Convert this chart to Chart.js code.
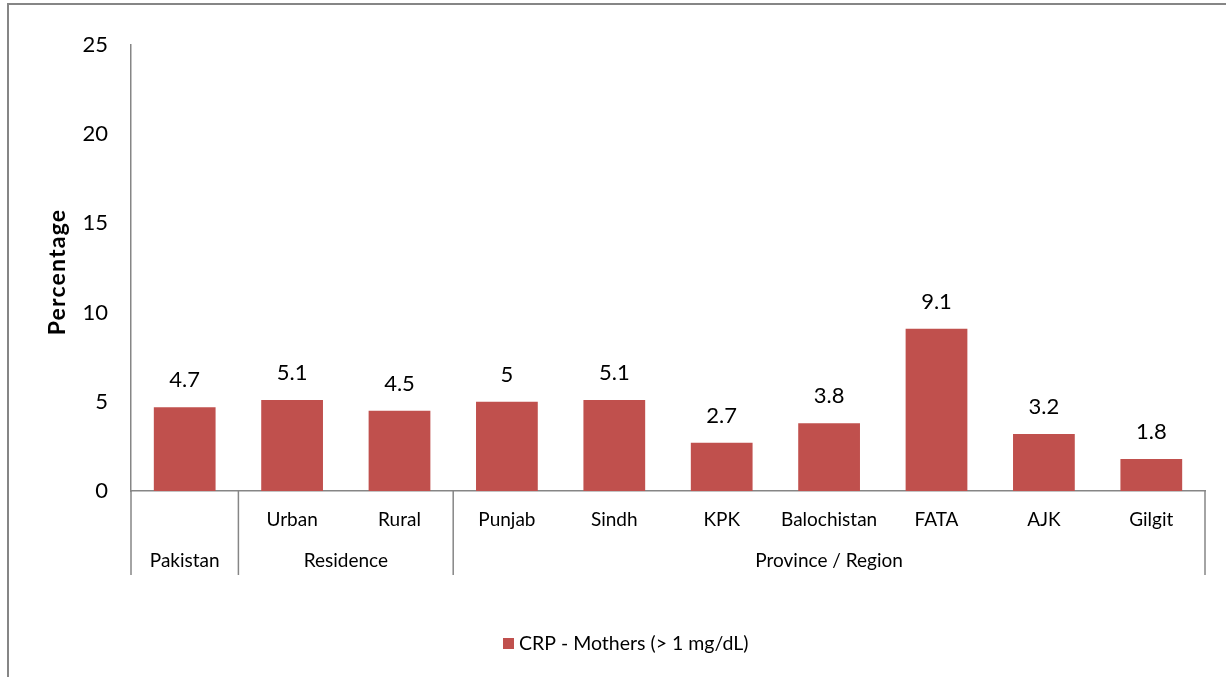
<!DOCTYPE html>
<html><head><meta charset="utf-8">
<script src="https://cdn.jsdelivr.net/npm/chart.js@4/dist/chart.umd.min.js"></script>
<style>html,body{margin:0;padding:0;background:#fff}#wrap{width:1226px;height:677px;position:relative}canvas{display:block}</style>
</head><body><div id="wrap"><canvas id="c" width="1226" height="677"></canvas></div>
<script>
const categories = ["Pakistan","Urban","Rural","Punjab","Sindh","KPK","Balochistan","FATA","AJK","Gilgit"];
const tickLabels = ["","Urban","Rural","Punjab","Sindh","KPK","Balochistan","FATA","AJK","Gilgit"];
const groupLabels = ["Pakistan","Residence","Province / Region"];
const groupSizes = [1,2,7];
const crpMothers = [4.7,5.1,4.5,5,5.1,2.7,3.8,9.1,3.2,1.8];
const yTicks = [0,5,10,15,20,25];
const seriesName = "CRP - Mothers (> 1 mg/dL)";
const yTitle = "Percentage";

const FONT = "Lato, 'Open Sans', sans-serif";
const AXIS = "#868686";
const BAR = "#C0504D";

const decor = {
  id: 'decor',
  afterDraw(chart) {
    const ctx = chart.ctx;
    const xs = chart.scales.x;
    const ca = chart.chartArea;
    ctx.save();
    // outer frame
    ctx.strokeStyle = AXIS; ctx.lineWidth = 2;
    ctx.strokeRect(8, 4, 1400, 900);
    // group dividers
    ctx.lineWidth = 1.5;
    let idx = 0;
    const bounds = [xs.getPixelForValue(-0.5)];
    groupSizes.forEach(n => { idx += n; bounds.push(xs.getPixelForValue(idx - 0.5)); });
    bounds.forEach(b => {
      ctx.beginPath(); ctx.moveTo(b, ca.bottom); ctx.lineTo(b, 575); ctx.stroke();
    });
    // group labels
    ctx.fillStyle = '#000';
    ctx.font = "19px " + FONT;
    ctx.textAlign = 'center'; ctx.textBaseline = 'middle';
    groupLabels.forEach((g, i) => {
      ctx.fillText(g, (bounds[i] + bounds[i + 1]) / 2, 561);
    });
    // data labels
    ctx.font = "22px " + FONT;
    const meta = chart.getDatasetMeta(0);
    meta.data.forEach((bar, i) => {
      ctx.fillText(String(crpMothers[i]), bar.x, bar.y - 27);
    });
    // y title
    ctx.save();
    ctx.translate(58, 272); ctx.rotate(-Math.PI / 2);
    ctx.font = "bold 23px " + FONT;
    try { ctx.letterSpacing = '1.2px'; } catch (e) {}
    ctx.fillText(yTitle, 0, 0);
    ctx.restore();
    // legend
    ctx.fillStyle = BAR;
    ctx.fillRect(503, 638, 11, 11);
    ctx.fillStyle = '#000';
    ctx.font = "19.5px " + FONT;
    ctx.textAlign = 'left';
    ctx.fillText(seriesName, 519, 643.5);
    ctx.restore();
  }
};

new Chart(document.getElementById('c'), {
  type: 'bar',
  data: {
    labels: categories,
    datasets: [{ label: seriesName, data: crpMothers, backgroundColor: BAR, categoryPercentage: 1, barPercentage: 0.575 }]
  },
  options: {
    responsive: false,
    animation: false,
    devicePixelRatio: 1,
    layout: { padding: { left: 0, top: 45, right: 21, bottom: 0 } },
    plugins: { legend: { display: false }, tooltip: { enabled: false } },
    scales: {
      x: {
        grid: { display: false, drawTicks: false },
        border: { display: true, color: AXIS, width: 1.5 },
        ticks: { color: '#000', font: { size: 19, family: FONT }, padding: 17, autoSkip: false, maxRotation: 0,
          callback: (v, i) => tickLabels[i] },
        afterFit: s => { s.height = 186; }
      },
      y: {
        min: 0, max: 25,
        grid: { display: false, drawTicks: false },
        border: { display: true, color: AXIS, width: 1.5 },
        ticks: { color: '#000', font: { size: 22, family: FONT }, padding: 23, stepSize: 5,
          callback: v => yTicks.includes(v) ? String(v) : '' },
        afterFit: s => { s.width = 131; }
      }
    }
  },
  plugins: [decor]
});
</script></body></html>
